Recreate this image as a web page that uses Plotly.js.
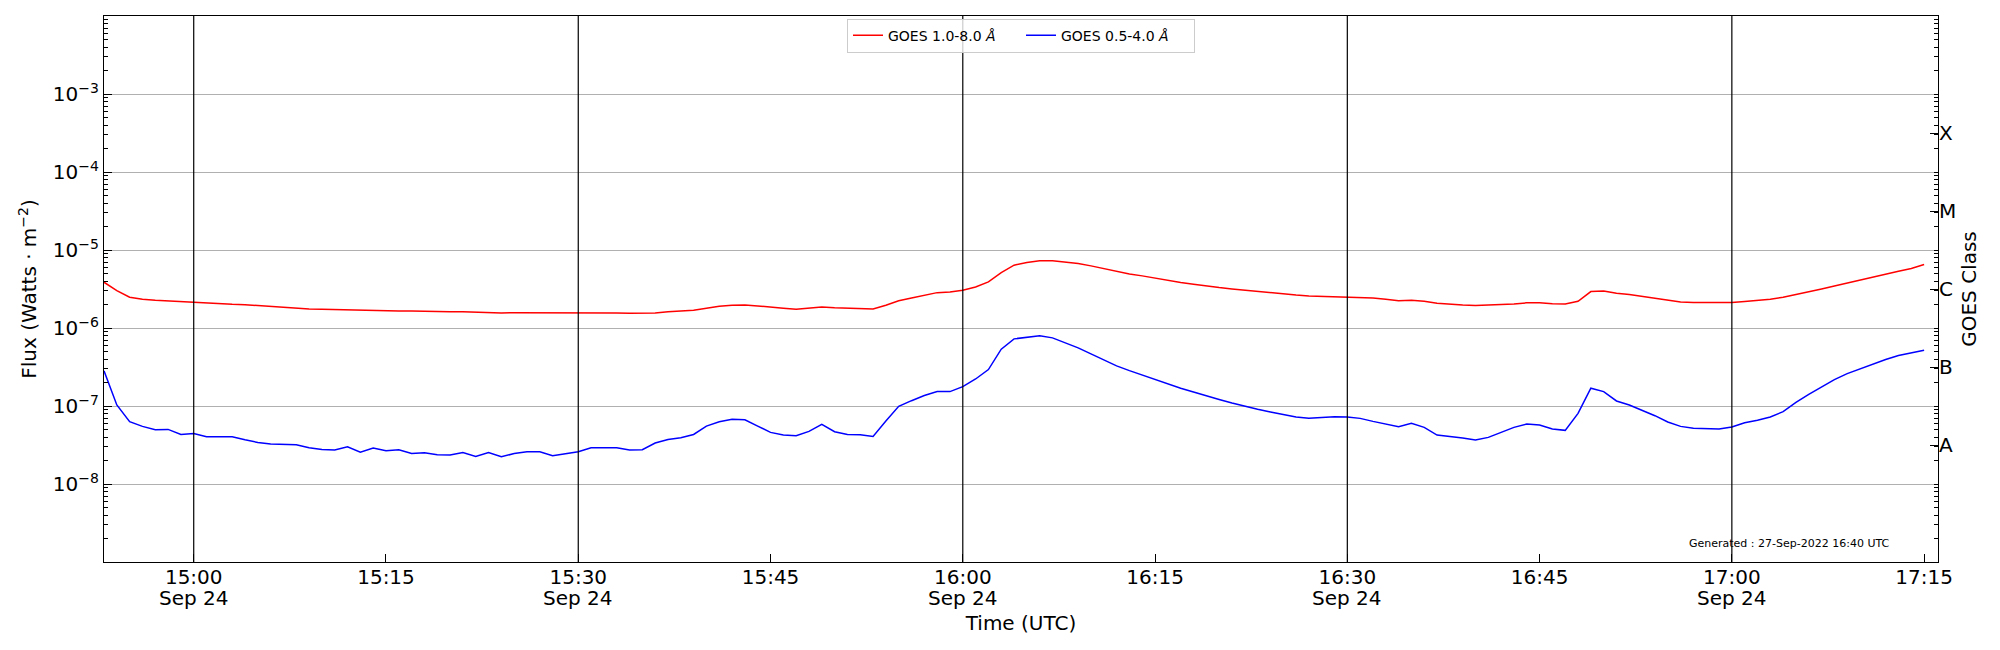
<!DOCTYPE html>
<html>
<head>
<meta charset="utf-8">
<script src="https://cdn.plot.ly/plotly-3.0.1.min.js"></script>
<style>
  body { margin: 0; background: #fff; }
  #chart { width: 2000px; height: 650px; }
</style>
</head>
<body>
<div id="chart"></div>
<script>
// GOES XRS flux, one sample per minute from 14:53 UTC (W/m^2)
const startTime = '2022-09-24T14:53:00Z';

const longFlux = [
  3.86e-6, 3.02e-6, 2.48e-6, 2.34e-6, 2.27e-6, 2.22e-6, 2.16e-6, 2.12e-6, 2.07e-6, 2.03e-6,
  2.01e-6, 1.99e-6, 1.94e-6, 1.88e-6, 1.82e-6, 1.79e-6, 1.75e-6, 1.74e-6, 1.72e-6, 1.72e-6,
  1.70e-6, 1.69e-6, 1.67e-6, 1.65e-6, 1.65e-6, 1.65e-6, 1.64e-6, 1.62e-6, 1.61e-6, 1.59e-6,
  1.57e-6, 1.56e-6, 1.57e-6, 1.57e-6, 1.59e-6, 1.57e-6, 1.56e-6, 1.56e-6, 1.56e-6, 1.56e-6,
  1.56e-6, 1.54e-6, 1.54e-6, 1.56e-6, 1.61e-6, 1.64e-6, 1.69e-6, 1.79e-6, 1.90e-6, 1.96e-6,
  1.97e-6, 1.92e-6, 1.84e-6, 1.79e-6, 1.74e-6, 1.79e-6, 1.86e-6, 1.82e-6, 1.79e-6, 1.77e-6,
  1.75e-6, 1.96e-6, 2.24e-6, 2.43e-6, 2.63e-6, 2.84e-6, 2.90e-6, 3.05e-6, 3.36e-6, 3.90e-6,
  5.14e-6, 6.39e-6, 6.91e-6, 7.26e-6, 7.26e-6, 7.05e-6, 6.71e-6, 6.26e-6, 5.79e-6, 5.29e-6,
  4.94e-6, 4.66e-6, 4.35e-6, 4.06e-6, 3.82e-6, 3.64e-6, 3.43e-6, 3.30e-6, 3.17e-6, 3.05e-6,
  2.93e-6, 2.82e-6, 2.73e-6, 2.65e-6, 2.58e-6, 2.55e-6, 2.55e-6, 2.53e-6, 2.48e-6, 2.43e-6,
  2.34e-6, 2.24e-6, 2.27e-6, 2.20e-6, 2.07e-6, 2.01e-6, 1.97e-6, 1.94e-6, 1.96e-6, 1.99e-6,
  2.03e-6, 2.10e-6, 2.10e-6, 2.05e-6, 2.03e-6, 2.20e-6, 2.93e-6, 2.99e-6, 2.79e-6, 2.68e-6,
  2.55e-6, 2.41e-6, 2.27e-6, 2.16e-6, 2.12e-6, 2.12e-6, 2.12e-6, 2.12e-6, 2.18e-6, 2.24e-6,
  2.34e-6, 2.48e-6, 2.68e-6, 2.90e-6, 3.17e-6, 3.46e-6, 3.79e-6, 4.10e-6, 4.48e-6, 4.89e-6,
  5.35e-6, 5.79e-6, 6.51e-6
];

const shortFlux = [
  2.82e-7, 1.03e-7, 6.29e-8, 5.48e-8, 4.97e-8, 5.01e-8, 4.32e-8, 4.45e-8, 4.04e-8, 4.00e-8,
  4.04e-8, 3.69e-8, 3.41e-8, 3.25e-8, 3.22e-8, 3.19e-8, 2.91e-8, 2.77e-8, 2.72e-8, 3.00e-8,
  2.56e-8, 2.89e-8, 2.67e-8, 2.75e-8, 2.46e-8, 2.51e-8, 2.37e-8, 2.35e-8, 2.54e-8, 2.26e-8,
  2.54e-8, 2.23e-8, 2.46e-8, 2.59e-8, 2.59e-8, 2.30e-8, 2.44e-8, 2.59e-8, 2.91e-8, 2.94e-8,
  2.91e-8, 2.72e-8, 2.75e-8, 3.35e-8, 3.73e-8, 3.92e-8, 4.32e-8, 5.53e-8, 6.29e-8, 6.74e-8,
  6.67e-8, 5.53e-8, 4.59e-8, 4.24e-8, 4.16e-8, 4.73e-8, 5.81e-8, 4.68e-8, 4.32e-8, 4.28e-8,
  4.08e-8, 6.42e-8, 9.90e-8, 1.17e-7, 1.36e-7, 1.53e-7, 1.53e-7, 1.77e-7, 2.22e-7, 2.93e-7,
  5.35e-7, 7.26e-7, 7.55e-7, 7.93e-7, 7.47e-7, 6.51e-7, 5.56e-7, 4.66e-7, 3.90e-7, 3.27e-7,
  2.84e-7, 2.50e-7, 2.18e-7, 1.90e-7, 1.69e-7, 1.51e-7, 1.34e-7, 1.21e-7, 1.09e-7, 9.90e-8,
  9.06e-8, 8.37e-8, 7.82e-8, 7.22e-8, 6.94e-8, 7.15e-8, 7.29e-8, 7.22e-8, 6.94e-8, 6.35e-8,
  5.81e-8, 5.43e-8, 5.99e-8, 5.32e-8, 4.24e-8, 4.08e-8, 3.88e-8, 3.66e-8, 3.96e-8, 4.59e-8,
  5.32e-8, 5.87e-8, 5.70e-8, 5.06e-8, 4.87e-8, 8.05e-8, 1.69e-7, 1.53e-7, 1.16e-7, 1.03e-7,
  8.88e-8, 7.51e-8, 6.23e-8, 5.48e-8, 5.17e-8, 5.17e-8, 5.06e-8, 5.37e-8, 6.11e-8, 6.55e-8,
  7.22e-8, 8.46e-8, 1.11e-7, 1.41e-7, 1.77e-7, 2.18e-7, 2.60e-7, 2.99e-7, 3.43e-7, 3.94e-7,
  4.43e-7, 4.84e-7, 5.19e-7
];

// Axis ticks
const tickTimes = ['15:00', '15:15', '15:30', '15:45', '16:00', '16:15', '16:30', '16:45', '17:00', '17:15'];
const dayTicks = ['15:00', '15:30', '16:00', '16:30', '17:00'];
const dayLabel = 'Sep 24';
const fluxExponents = [-8, -7, -6, -5, -4, -3];
const classLabels = ['A', 'B', 'C', 'M', 'X'];
const classCenters = [3.16e-8, 3.16e-7, 3.16e-6, 3.16e-5, 3.16e-4];

const day = '2022-09-24 ';
const font = 'DejaVu Sans, Liberation Sans, sans-serif';

// Build the time column, one minute apart
const t0 = Date.parse(startTime);
const times = longFlux.map((_, i) =>
  new Date(t0 + i * 60000).toISOString().slice(0, 19).replace('T', ' '));

// Log minor ticks 1..9 per decade
const minorTicks = [];
for (let d = -9; d < -2; d++) {
  for (let k = 1; k < 10; k++) {
    minorTicks.push(k * Math.pow(10, d));
  }
}

const traceLong = {
  x: times,
  y: longFlux,
  name: 'GOES 1.0-8.0 <i>Å</i>',
  mode: 'lines',
  line: { color: '#ff0000', width: 1.5 },
  type: 'scatter',
};

const traceShort = {
  x: times,
  y: shortFlux,
  name: 'GOES 0.5-4.0 <i>Å</i>',
  mode: 'lines',
  line: { color: '#0000ff', width: 1.5 },
  type: 'scatter',
};

// empty trace so the class axis on the right gets drawn
const traceClass = {
  x: [],
  y: [],
  yaxis: 'y2',
  showlegend: false,
  hoverinfo: 'skip',
  type: 'scatter',
};

// vertical black lines at the half-hour ticks
const dayLines = dayTicks.map((t) => ({
  type: 'line',
  xref: 'x',
  yref: 'paper',
  x0: day + t,
  x1: day + t,
  y0: 0,
  y1: 1,
  line: { color: '#000000', width: 1.2 },
}));

// second line of the half-hour tick labels
const dayNotes = dayTicks.map((t) => ({
  text: dayLabel,
  xref: 'x',
  yref: 'paper',
  x: day + t,
  y: -0.066,
  xanchor: 'center',
  yanchor: 'middle',
  showarrow: false,
  font: { family: font, size: 20, color: '#000000' },
}));

const layout = {
  width: 2000,
  height: 650,
  margin: { l: 104, r: 62, t: 16, b: 88 },
  paper_bgcolor: '#ffffff',
  plot_bgcolor: '#ffffff',
  font: { family: font, size: 20, color: '#000000' },
  showlegend: true,
  legend: {
    orientation: 'h',
    x: 0.5,
    xanchor: 'center',
    y: 0.995,
    yanchor: 'top',
    entrywidth: 128,
    bgcolor: 'rgba(255,255,255,0.8)',
    bordercolor: '#cccccc',
    borderwidth: 1,
    font: { family: font, size: 14, color: '#000000' },
  },
  xaxis: {
    type: 'date',
    range: [day + '14:53:00', day + '17:16:05'],
    tickmode: 'array',
    tickvals: tickTimes.map((t) => day + t),
    ticktext: tickTimes,
    ticks: 'inside',
    ticklen: 8,
    tickcolor: '#000000',
    ticklabelstandoff: -3,
    showgrid: false,
    zeroline: false,
    showline: true,
    linecolor: '#000000',
    linewidth: 1.2,
    mirror: true,
    tickfont: { family: font, size: 20 },
    title: { text: 'Time (UTC)', font: { family: font, size: 20 }, standoff: 27 },
  },
  yaxis: {
    type: 'log',
    range: [-9, -2],
    tickmode: 'array',
    tickvals: fluxExponents.map((e) => Math.pow(10, e)),
    ticktext: fluxExponents.map((e) => '10<sup>−' + Math.abs(e) + '</sup>'),
    ticks: 'inside',
    ticklen: 8,
    tickcolor: '#000000',
    minor: {
      tickmode: 'array',
      tickvals: minorTicks,
      ticks: 'inside',
      ticklen: 4,
      tickcolor: '#000000',
      showgrid: false,
    },
    showgrid: true,
    gridcolor: '#b0b0b0',
    gridwidth: 1,
    zeroline: false,
    showline: true,
    linecolor: '#000000',
    linewidth: 1.2,
    mirror: true,
    tickfont: { family: font, size: 20 },
    title: { text: 'Flux (Watts · m<sup>−2</sup>)', font: { family: font, size: 20 }, standoff: 10 },
  },
  yaxis2: {
    type: 'log',
    range: [-9, -2],
    overlaying: 'y',
    side: 'right',
    tickmode: 'array',
    tickvals: classCenters,
    ticktext: classLabels,
    ticks: 'inside',
    ticklen: 8,
    tickcolor: '#000000',
    minor: {
      tickmode: 'array',
      tickvals: minorTicks,
      ticks: 'inside',
      ticklen: 4,
      tickcolor: '#000000',
      showgrid: false,
    },
    showgrid: false,
    zeroline: false,
    showline: false,
    tickfont: { family: font, size: 20 },
    title: { text: 'GOES Class', font: { family: font, size: 20 }, standoff: 6 },
  },
  shapes: dayLines,
  annotations: [
    ...dayNotes,
    {
      text: 'Generated : 27-Sep-2022 16:40 UTC',
      xref: 'paper',
      yref: 'paper',
      x: 0.975,
      y: 0.033,
      xanchor: 'right',
      yanchor: 'middle',
      showarrow: false,
      font: { family: font, size: 11, color: '#000000' },
    },
  ],
};

const config = { staticPlot: true, responsive: false };

Plotly.newPlot('chart', [traceLong, traceShort, traceClass], layout, config);
</script>
</body>
</html>
